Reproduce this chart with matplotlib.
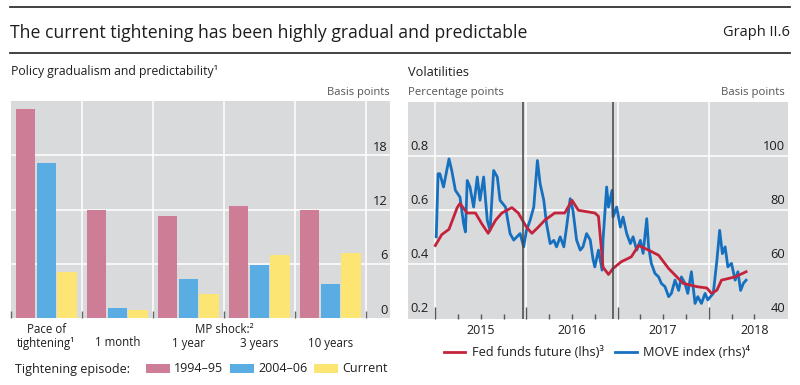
import matplotlib
matplotlib.use('Agg')
from matplotlib import pyplot as plt
from matplotlib.lines import Line2D
import matplotlib.transforms as mtransforms

plt.rcParams['font.family'] = ['Open Sans', 'DejaVu Sans']

# left panel: policy gradualism and predictability (basis points)
categories = ['Pace of\ntightening¹', '1 month', '1 year', '3 years', '10 years']
episodes = ['1994–95', '2004–06', 'Current']
vals_1994 = [23.1, 12.0, 11.3, 12.4, 12.0]
vals_2004 = [17.1, 1.1, 4.3, 5.9, 3.8]
vals_current = [5.1, 0.9, 2.6, 7.0, 7.2]
bar_ticks = [0, 6, 12, 18]

# right panel: volatilities (time in decimal years)
ffut_t = [2015.00, 2015.07, 2015.15, 2015.24, 2015.27, 2015.35, 2015.44, 2015.51, 2015.58,
          2015.66, 2015.73, 2015.84, 2015.91, 2016.00, 2016.06, 2016.13, 2016.20, 2016.31,
          2016.42, 2016.50, 2016.57, 2016.75, 2016.79, 2016.84, 2016.90, 2016.95, 2017.04,
          2017.15, 2017.23, 2017.34, 2017.45, 2017.56, 2017.65, 2017.72, 2017.87, 2017.98,
          2018.03, 2018.09, 2018.14, 2018.29, 2018.41]
ffut_v = [0.47, 0.51, 0.53, 0.61, 0.625, 0.59, 0.59, 0.55, 0.515,
          0.563, 0.59, 0.61, 0.59, 0.538, 0.515, 0.538, 0.563, 0.59,
          0.59, 0.637, 0.60, 0.59, 0.578, 0.39, 0.363, 0.385, 0.41,
          0.428, 0.47, 0.453, 0.434, 0.385, 0.354, 0.33, 0.318, 0.313,
          0.293, 0.305, 0.342, 0.354, 0.373]
move_t = [2015.01, 2015.03, 2015.05, 2015.09, 2015.15, 2015.18, 2015.22, 2015.27, 2015.31,
          2015.33, 2015.35, 2015.38, 2015.42, 2015.46, 2015.49, 2015.53, 2015.57, 2015.60,
          2015.64, 2015.68, 2015.71, 2015.77, 2015.82, 2015.86, 2015.93, 2015.97, 2016.00,
          2016.04, 2016.08, 2016.12, 2016.15, 2016.19, 2016.22, 2016.26, 2016.30, 2016.33,
          2016.37, 2016.41, 2016.44, 2016.48, 2016.51, 2016.55, 2016.59, 2016.62, 2016.66,
          2016.70, 2016.73, 2016.75, 2016.79, 2016.83, 2016.84, 2016.88, 2016.90, 2016.94,
          2016.95, 2016.99, 2017.03, 2017.06, 2017.10, 2017.14, 2017.17, 2017.21, 2017.25,
          2017.28, 2017.32, 2017.34, 2017.37, 2017.41, 2017.45, 2017.48, 2017.52, 2017.56,
          2017.59, 2017.63, 2017.67, 2017.70, 2017.74, 2017.77, 2017.81, 2017.85, 2017.88,
          2017.92, 2017.96, 2017.99, 2018.05, 2018.09, 2018.12, 2018.15, 2018.18, 2018.21,
          2018.25, 2018.29, 2018.32, 2018.35, 2018.38, 2018.41]
move_v = [70.2, 93.5, 93.5, 88.6, 99.0, 94.7, 87.4, 84.9, 75.1,
          72.0, 91.0, 88.6, 81.2, 92.3, 83.7, 92.3, 76.3, 72.6,
          94.7, 92.3, 83.7, 81.2, 71.4, 69.0, 71.4, 66.5, 72.6,
          76.3, 81.2, 98.4, 89.8, 83.7, 75.1, 67.7, 68.9, 66.5,
          70.2, 66.5, 73.8, 84.3, 80.0, 69.0, 65.3, 66.5, 71.4,
          69.0, 62.0, 59.1, 65.3, 57.9, 69.0, 88.6, 81.2, 87.4,
          77.5, 81.2, 73.8, 77.5, 71.4, 67.7, 70.2, 65.3, 68.9,
          64.1, 76.9, 66.5, 60.4, 56.7, 55.4, 53.0, 51.8, 48.1,
          49.3, 54.2, 50.4, 55.4, 53.0, 49.3, 57.3, 45.6, 48.1,
          45.6, 49.3, 46.9, 49.3, 61.6, 72.6, 64.0, 66.5, 59.1,
          60.4, 54.2, 57.3, 50.4, 53.0, 54.2]
hike_dates = [2015.96, 2016.95]
years = [2015, 2016, 2017, 2018]
lhs_ticks = [0.2, 0.4, 0.6, 0.8]
rhs_ticks = [40, 60, 80, 100]

BG = '#d9dadc'
TXT = '#1e1e1e'
GREY = '#555555'
PINK, BLUE, YELLOW = '#cd7d96', '#5aade2', '#fde574'
RED, MOVE_BLUE = '#c3243c', '#1670c0'

W, H = 800, 385
fig = plt.figure(figsize=(8, 3.85), dpi=100)


def fx(px):
    return px / W


def fy(py):
    return 1 - py / H


# header
fig.add_artist(Line2D([fx(10), fx(790)], [fy(7), fy(7)], color='#333333', lw=1.3))
fig.add_artist(Line2D([fx(10), fx(790)], [fy(53), fy(53)], color='#333333', lw=1.3))
fig.text(fx(10), fy(33), 'The current tightening has been highly gradual and predictable',
         fontsize=12.7, color=TXT, va='center', ha='left')
fig.text(fx(790), fy(33), 'Graph II.6', fontsize=10.5, color=TXT, va='center', ha='right')

# ---- left panel ----
ax1 = fig.add_axes([fx(11), fy(318), fx(379), 217 / H])
ax1.set_facecolor(BG)
x = list(range(len(categories)))
bw = 0.27
b1 = ax1.bar([i - 0.29 for i in x], vals_1994, width=bw, color=PINK, label=episodes[0])
b2 = ax1.bar(x, vals_2004, width=bw, color=BLUE, label=episodes[1])
b3 = ax1.bar([i + 0.29 for i in x], vals_current, width=bw, color=YELLOW, label=episodes[2])
ax1.set_xlim(-0.5, 4.84)
ax1.set_ylim(0, 24)
ax1.set_axisbelow(True)
for s in ax1.spines.values():
    s.set_visible(False)
ax1.set_yticks(bar_ticks[1:])
ax1.set_yticklabels([])
ax1.tick_params(axis='y', length=0)
ax1.grid(axis='y', color='white', lw=1.1)
for i in range(len(categories)):
    ax1.axvline(i + 0.5, color='white', lw=1.1, zorder=0.5)
ax1.set_xticks([])
ax1.set_xticks([i - 0.5 for i in range(len(categories) + 1)], minor=True)
ax1.tick_params(axis='x', which='minor', direction='in', length=5, width=1, color='#666666',
                labelbottom=False)
tr1 = mtransforms.blended_transform_factory(ax1.transAxes, ax1.transData)
for t in bar_ticks:
    ax1.text(0.993, t + 0.15, str(t), transform=tr1, ha='right', va='bottom',
             fontsize=9.3, color=TXT)
trx1 = mtransforms.blended_transform_factory(ax1.transData, fig.transFigure)
for i, lab in enumerate(categories):
    ypos = 336.5 if '\n' in lab else 343
    ax1.text(i, fy(ypos), lab, transform=trx1, ha='center', va='center',
             fontsize=8.3, color=TXT, linespacing=1.15)
ax1.text(2.5, fy(329.5), 'MP shock:²', transform=trx1, ha='center', va='center',
         fontsize=8.3, color=TXT)

fig.text(fx(11), fy(72), 'Policy gradualism and predictability¹', fontsize=8.8,
         color=TXT, va='center', ha='left')
fig.text(fx(390), fy(93), 'Basis points', fontsize=8, color=GREY, va='center', ha='right')

fig.text(fx(15), fy(369), 'Tightening episode:', fontsize=9.0, color=TXT, va='center', ha='left')
fig.legend(handles=[b1, b2, b3], labels=episodes, loc='center left',
           bbox_to_anchor=(fx(146), fy(369)), ncol=3, frameon=False, fontsize=9.0,
           handlelength=1.9, handleheight=0.75, handletextpad=0.35, columnspacing=0.55,
           borderpad=0, borderaxespad=0, labelcolor=TXT)

# ---- right panel ----
axr = fig.add_axes([fx(408), fy(318.6), fx(380), 216.6 / H])
ax2 = axr.twinx()
axr.set_facecolor(BG)
ax2.set_zorder(axr.get_zorder() + 1)
ax2.patch.set_visible(False)
axr.plot(move_t, move_v, color=MOVE_BLUE, lw=2.0, label='MOVE index (rhs)⁴')
ax2.plot(ffut_t, ffut_v, color=RED, lw=2.0, label='Fed funds future (lhs)³')
for d in hike_dates:
    ax2.axvline(d, color='#444444', lw=1.1)
axr.set_xlim(2014.70, 2018.87)
axr.set_ylim(40, 120)
ax2.set_ylim(0.2, 1.0)
for a in (axr, ax2):
    for s in a.spines.values():
        s.set_visible(False)
    a.set_yticks([])
axr.set_yticks(rhs_ticks[1:])
axr.set_yticklabels([])
axr.tick_params(axis='y', length=0)
axr.set_xticks(years)
axr.set_xticklabels([])
axr.grid(color='white', lw=1.1)
axr.set_axisbelow(True)
axr.set_xticks([y + q / 4 for y in years for q in range(1, 4) if y + q / 4 < 2018.6], minor=True)
axr.tick_params(axis='x', which='major', direction='in', length=8.5, width=1, color='#555555')
axr.tick_params(axis='x', which='minor', direction='in', length=3.8, width=1, color='#555555')

trl = mtransforms.blended_transform_factory(ax2.transAxes, ax2.transData)
for t in lhs_ticks:
    ax2.text(0.006, t + 0.012, f'{t:.1f}', transform=trl, ha='left', va='bottom',
             fontsize=9.3, color=TXT)
trr = mtransforms.blended_transform_factory(axr.transAxes, axr.transData)
for t in rhs_ticks:
    axr.text(0.992, t + 1.2, str(t), transform=trr, ha='right', va='bottom',
             fontsize=9.3, color=TXT)
trx2 = mtransforms.blended_transform_factory(axr.transData, fig.transFigure)
for y in years:
    axr.text(y + 0.5, fy(331), str(y), transform=trx2, ha='center', va='center',
             fontsize=9, color=TXT)

fig.text(fx(408), fy(72), 'Volatilities', fontsize=9.2, color=TXT, va='center', ha='left')
fig.text(fx(408), fy(93), 'Percentage points', fontsize=8.2, color=GREY, va='center', ha='left')
fig.text(fx(785), fy(93), 'Basis points', fontsize=8.2, color=GREY, va='center', ha='right')

h_red = Line2D([], [], color=RED, lw=2.0)
h_blue = Line2D([], [], color=MOVE_BLUE, lw=2.0)
fig.legend(handles=[h_red, h_blue], labels=['Fed funds future (lhs)³', 'MOVE index (rhs)⁴'],
           loc='center', bbox_to_anchor=(fx(597), fy(353)), ncol=2, frameon=False,
           fontsize=9.2, handlelength=1.7, handletextpad=0.5, columnspacing=0.9,
           borderpad=0, borderaxespad=0, labelcolor=TXT)

fig.savefig('out.png', dpi=100, facecolor='white')
